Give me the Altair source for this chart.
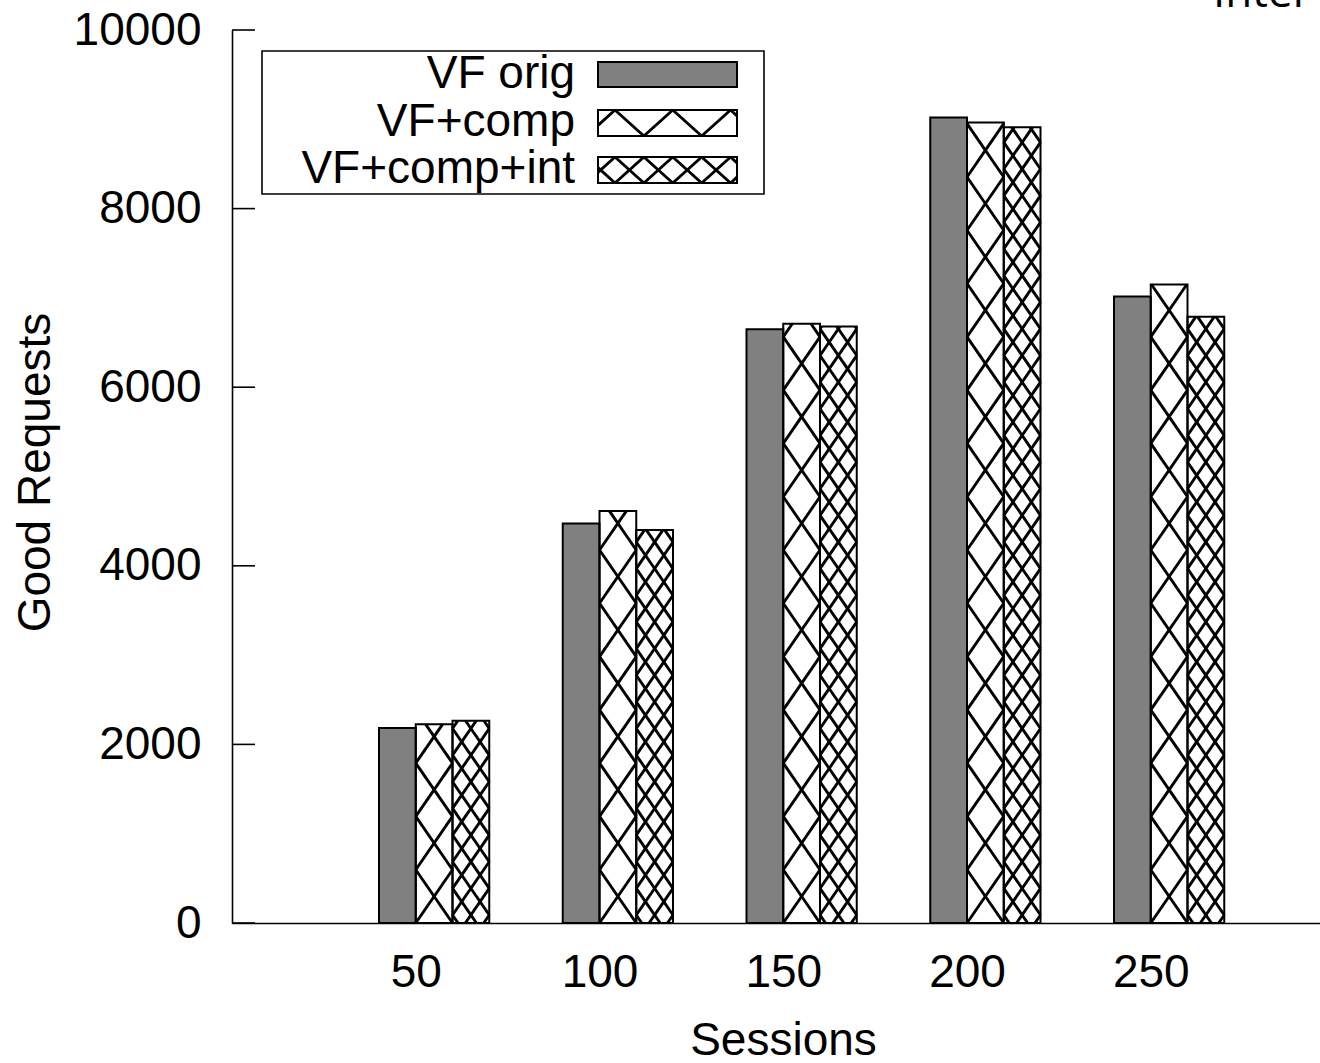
import math
import altair as alt
import pandas as pd

# ---------------- data ----------------
sessions = [50, 100, 150, 200, 250]
series_names = ["VF orig", "VF+comp", "VF+comp+int"]
vf_orig = [2185, 4475, 6650, 9020, 7015]
vf_comp = [2225, 4615, 6710, 8965, 7150]
vf_comp_int = [2265, 4400, 6680, 8910, 6790]
y_ticks = [0, 2000, 4000, 6000, 8000, 10000]
corner_text = "Inter"

# ---------------- layout / style ----------------
FONT = "Liberation Sans"
PX0, PY0 = 232, 30          # plot origin (px)
W, H = 1088, 893            # plot size (px)
XU = 183.75                 # px per category step
YMAX = 10000
YU = H / YMAX               # px per unit
XMAX = W / XU
BAR_W = 0.2
FILLS = ["#808080", "white", "white"]
PATTERNS = [None, "comp", "int"]
HATCH_W = 2.9


def dx(px):
    return (px - PX0) / XU


def dy(py):
    return (PY0 + H - py) / YU


def hatch(L, R, T, B, s, D, pa, pb):
    """Clipped diagonal line segments (px) for two line families."""
    segs = []
    for sign, ph in ((1, pa), (-1, pb)):
        corners = [(L, T), (L, B), (R, T), (R, B)]
        cs = [y - sign * s * x for x, y in corners]
        k0 = math.ceil((min(cs) - ph) / D)
        k1 = math.floor((max(cs) - ph) / D)
        for k in range(k0, k1 + 1):
            c = ph + k * D
            xa = (T - c) / (sign * s)
            xb = (B - c) / (sign * s)
            lo = max(L, min(xa, xb))
            hi = min(R, max(xa, xb))
            if hi - lo > 0.6:
                segs.append((lo, sign * s * lo + c, hi, sign * s * hi + c))
    return segs


# ---------------- bars ----------------
values = [vf_orig, vf_comp, vf_comp_int]
bar_rows = []
hatch_rows = []
S = 1.45
for i, ses in enumerate(sessions):
    idx = i + 1
    for j, name in enumerate(series_names):
        v = values[j][i]
        x_lo = idx - BAR_W + BAR_W * j
        x_hi = x_lo + BAR_W
        bar_rows.append(dict(session=ses, series=name, value=v, zero=0,
                             x_lo=x_lo, x_hi=x_hi, fill=FILLS[j]))
        pat = PATTERNS[j]
        if pat:
            L = PX0 + x_lo * XU
            R = PX0 + x_hi * XU
            B = PY0 + H
            T = PY0 + H - v * YU
            Wb = R - L
            P = S * Wb
            xc = (L + R) / 2
            if pat == "comp":
                D = P
                yc = B - P / 2
            else:
                D = P / 2
                yc = B - 8
            for (x1, y1, x2, y2) in hatch(L, R, T, B, S, D, yc - S * xc, yc + S * xc):
                hatch_rows.append(dict(x1=dx(x1), y1=dy(y1), x2=dx(x2), y2=dy(y2)))

bars_df = pd.DataFrame(bar_rows)
hatch_df = pd.DataFrame(hatch_rows)

# ---------------- legend (px geometry -> data units) ----------------
leg_box = dict(x1=dx(262), x2=dx(764), y1=dy(194), y2=dy(51))
sw_L, sw_R = 598, 737
sw_rows_px = [(62, 87), (110, 136), (157, 183)]
text_base_px = [88, 136, 183]
leg_sw = []
leg_txt = []
leg_hatch = []
for j, name in enumerate(series_names):
    T, B = sw_rows_px[j]
    leg_sw.append(dict(x1=dx(sw_L), x2=dx(sw_R), y1=dy(B), y2=dy(T), fill=FILLS[j]))
    leg_txt.append(dict(x=dx(575), y=dy(text_base_px[j]), label=name))
    if PATTERNS[j]:
        s = 0.9
        if PATTERNS[j] == "comp":
            D = 2 * (B - T)
        else:
            D = (B - T)
        x0 = 615
        for (x1, y1, x2, y2) in hatch(sw_L, sw_R, T, B, s, D, T - s * x0, T + s * x0):
            leg_hatch.append(dict(x1=dx(x1), y1=dy(y1), x2=dx(x2), y2=dy(y2)))

leg_box_df = pd.DataFrame([leg_box])
leg_sw_df = pd.DataFrame(leg_sw)
leg_txt_df = pd.DataFrame(leg_txt)
leg_hatch_df = pd.DataFrame(leg_hatch)

ticks_df = pd.DataFrame(dict(y=y_ticks, x1=0.0, x2=dx(PX0 + 23)))
corner_df = pd.DataFrame([dict(x=dx(1213), y=dy(7), label=corner_text)])

# ---------------- scales / axes ----------------
xscale = alt.Scale(domain=[0, XMAX], nice=False, zero=False)
yscale = alt.Scale(domain=[0, YMAX], nice=False)

label_map = "[" + ",".join("'%s'" % s for s in sessions) + "]"
xaxis = alt.Axis(values=[i + 1 for i in range(len(sessions))],
                 labelExpr=label_map + "[datum.value - 1]",
                 ticks=False, tickSize=0, grid=False,
                 labelFont=FONT, labelFontSize=46, labelColor="black",
                 labelPadding=27, labelFlush=False,
                 domainColor="black", domainWidth=1.6,
                 title="Sessions", titleFont=FONT, titleFontSize=46,
                 titleFontWeight="normal", titleColor="black",
                 titleX=551, titleY=131, titleAlign="center",
                 titleBaseline="alphabetic")
yaxis = alt.Axis(values=y_ticks, format="d", ticks=False, tickSize=0, grid=False,
                 labelFont=FONT, labelFontSize=46, labelColor="black",
                 labelPadding=31, labelFlush=False,
                 domainColor="black", domainWidth=1.6,
                 title="Good Requests", titleFont=FONT, titleFontSize=46,
                 titleFontWeight="normal", titleColor="black",
                 titleAngle=270, titleX=-183, titleY=442,
                 titleAlign="center", titleBaseline="alphabetic")


def X(field):
    return alt.X(field, scale=xscale, axis=xaxis)


def Y(field):
    return alt.Y(field, scale=yscale, axis=yaxis)


bars = alt.Chart(bars_df).mark_rect(strokeWidth=0).encode(
    x=X("x_lo:Q"), x2="x_hi:Q",
    y=Y("value:Q"), y2="zero:Q",
    fill=alt.Fill("fill:N", scale=None),
)

hatch_layer = alt.Chart(hatch_df).mark_rule(color="black", strokeWidth=HATCH_W, strokeCap="butt").encode(
    x=X("x1:Q"), x2="x2:Q",
    y=Y("y1:Q"), y2="y2:Q",
)

outlines = alt.Chart(bars_df).mark_rect(fillOpacity=0, stroke="black", strokeWidth=2).encode(
    x=X("x_lo:Q"), x2="x_hi:Q",
    y=Y("value:Q"), y2="zero:Q",
)

tick_layer = alt.Chart(ticks_df).mark_rule(color="black", strokeWidth=1.6).encode(
    x=X("x1:Q"), x2="x2:Q",
    y=Y("y:Q"),
)

legend_box = alt.Chart(leg_box_df).mark_rect(fill="white", stroke="black", strokeWidth=1.6).encode(
    x=X("x1:Q"), x2="x2:Q",
    y=Y("y1:Q"), y2="y2:Q",
)
legend_sw = alt.Chart(leg_sw_df).mark_rect(strokeWidth=0).encode(
    x=X("x1:Q"), x2="x2:Q",
    y=Y("y1:Q"), y2="y2:Q",
    fill=alt.Fill("fill:N", scale=None),
)
legend_hatch = alt.Chart(leg_hatch_df).mark_rule(color="black", strokeWidth=HATCH_W, strokeCap="butt").encode(
    x=X("x1:Q"), x2="x2:Q",
    y=Y("y1:Q"), y2="y2:Q",
)
legend_out = alt.Chart(leg_sw_df).mark_rect(fillOpacity=0, stroke="black", strokeWidth=2).encode(
    x=X("x1:Q"), x2="x2:Q",
    y=Y("y1:Q"), y2="y2:Q",
)
legend_text = alt.Chart(leg_txt_df).mark_text(
    font=FONT, fontSize=46, color="black", align="right", baseline="alphabetic"
).encode(
    x=X("x:Q"), y=Y("y:Q"), text="label:N",
)
corner = alt.Chart(corner_df).mark_text(
    font="Open Sans", fontSize=44, color="black", align="left", baseline="alphabetic"
).encode(
    x=X("x:Q"), y=Y("y:Q"), text="label:N",
)

chart = alt.layer(
    bars, hatch_layer, outlines, tick_layer,
    legend_box, legend_sw, legend_hatch, legend_out, legend_text, corner,
).properties(
    width=W, height=H,
    autosize=alt.AutoSizeParams(type="none"),
    padding={"left": PX0, "top": PY0, "right": 0, "bottom": 1063 - PY0 - H},
    background="white",
).configure_view(stroke=None)

chart.save("out.html", embed_options={"renderer": "svg", "actions": False})
